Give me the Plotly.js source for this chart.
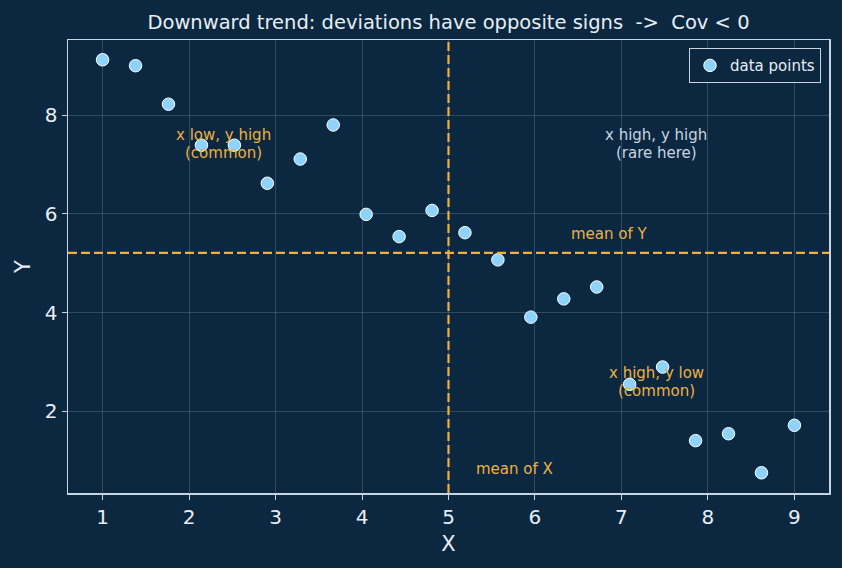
<!DOCTYPE html>
<html>
<head>
<meta charset="utf-8">
<script src="https://cdn.plot.ly/plotly-3.0.1.min.js"></script>
<style>html,body{margin:0;padding:0;background:#0b2840;}#chart{width:842px;height:568px;}</style>
</head>
<body>
<div id="chart"></div>
<script>
const xValues = [1.000, 1.381, 1.762, 2.143, 2.524, 2.905, 3.286, 3.667, 4.048, 4.429, 4.810,
                 5.190, 5.571, 5.952, 6.333, 6.714, 7.095, 7.476, 7.857, 8.238, 8.619, 9.000];
const yValues = [9.12, 9.00, 8.22, 7.39, 7.39, 6.62, 7.11, 7.80, 5.99, 5.54, 6.07,
                 5.62, 5.07, 3.91, 4.28, 4.52, 2.55, 2.90, 1.41, 1.55, 0.76, 1.72];
const meanX = 5.0;
const meanY = 5.21;
const seriesName = "data points";
const titleText = "Downward trend: deviations have opposite signs  ->  Cov < 0";

const orange = "#f0b040";
const font = "DejaVu Sans, sans-serif";
const fg = "#e8eef5";
const spine = "#c8d4e0";

const trace = {
  x: xValues, y: yValues, type: "scatter", mode: "markers", name: seriesName,
  marker: {size: 12.5, color: "#8dd3fb", line: {color: "#ffffff", width: 1}},
  hoverinfo: "skip"
};

function twoLine(x, y, l1, l2, color) {
  return [
    {x: x, y: y, xref: "x", yref: "y", text: l1, showarrow: false, yshift: 9,
     font: {size: 15, color: color, family: font}},
    {x: x, y: y, xref: "x", yref: "y", text: l2, showarrow: false, yshift: -9,
     font: {size: 15, color: color, family: font}}
  ];
}

const layout = {
  width: 842, height: 568,
  paper_bgcolor: "#0b2840", plot_bgcolor: "#0b2840",
  margin: {l: 68, r: 13, t: 40, b: 75},
  font: {family: font, color: fg},
  title: {text: titleText, font: {size: 19.5, color: fg, family: font}, x: 0.5, xref: "paper", y: 1, yref: "paper", yanchor: "bottom", pad: {b: 11}},
  showlegend: true,
  legend: {x: 0.9895, y: 0.982, xanchor: "right", yanchor: "top", bgcolor: "#0b2840",
           bordercolor: spine, borderwidth: 1, font: {size: 15, color: fg, family: font},
           itemwidth: 30, tracegroupgap: 0},
  xaxis: {range: [0.6, 9.4], tickvals: [1,2,3,4,5,6,7,8,9], showgrid: true,
          gridcolor: "rgba(255,255,255,0.2)", gridwidth: 0.8, zeroline: false,
          showline: true, linecolor: spine, linewidth: 1.5, mirror: true,
          ticks: "outside", ticklen: 5, tickcolor: spine, tickwidth: 1,
          tickfont: {size: 20, color: fg, family: font},
          title: {text: "X", font: {size: 21, color: fg, family: font}, standoff: 9}},
  yaxis: {range: [0.35, 9.52], tickvals: [2,4,6,8], showgrid: true,
          gridcolor: "rgba(255,255,255,0.2)", gridwidth: 0.8, zeroline: false,
          showline: true, linecolor: spine, linewidth: 1.5, mirror: true,
          ticks: "outside", ticklen: 5, tickcolor: spine, tickwidth: 1,
          tickfont: {size: 20, color: fg, family: font},
          title: {text: "Y", font: {size: 21, color: fg, family: font}, standoff: 8}},
  shapes: [
    {type: "line", xref: "x", yref: "paper", x0: meanX, x1: meanX, y0: 0, y1: 1,
     line: {color: orange, width: 2.2, dash: "9px,4px"}},
    {type: "line", xref: "paper", yref: "y", x0: 0, x1: 1, y0: meanY, y1: meanY,
     line: {color: orange, width: 2.2, dash: "9px,4px"}}
  ],
  annotations: [].concat(
    twoLine(2.4, 7.41, "x low, y high", "(common)", orange),
    twoLine(7.4, 7.41, "x high, y high", "(rare here)", "#c8d4e0"),
    twoLine(7.4, 2.59, "x high, y low", "(common)", orange),
    [
      {x: 6.86, y: 5.6, xref: "x", yref: "y", text: "mean of Y", showarrow: false,
       font: {size: 15, color: orange, family: font}},
      {x: 5.76, y: 0.84, xref: "x", yref: "y", text: "mean of X", showarrow: false,
       font: {size: 15, color: orange, family: font}}
    ])
};

Plotly.newPlot("chart", [trace], layout, {displayModeBar: false, staticPlot: true});
</script>
</body>
</html>
